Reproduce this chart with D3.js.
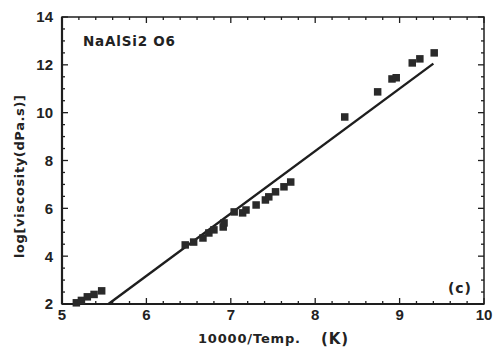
<!DOCTYPE html>
<html><head><meta charset="utf-8">
<script src="https://cdn.jsdelivr.net/npm/d3@7"></script>
<style>body{margin:0;background:#fff}svg{display:block}text{font-family:"Liberation Sans",Arial,sans-serif;font-weight:bold;fill:#222}.lab{font-family:"DejaVu Sans",sans-serif;font-weight:bold}</style>
</head><body><svg id="c" width="495" height="353"></svg>
<script>
const xTicks=[5,6,7,8,9,10];
const yTicks=[2,4,6,8,10,12,14];
const dataX=[5.17,5.23,5.30,5.38,5.47,6.46,6.56,6.67,6.74,6.80,6.91,6.92,7.04,7.14,7.18,7.30,7.41,7.45,7.53,7.63,7.71,8.35,8.74,8.91,8.96,9.15,9.24,9.41];
const dataY=[2.05,2.15,2.30,2.40,2.55,4.47,4.59,4.76,4.97,5.10,5.22,5.39,5.85,5.81,5.93,6.14,6.35,6.48,6.69,6.90,7.10,9.82,10.87,11.41,11.46,12.08,12.25,12.50];
const fitX=[5.55,9.40];
const fitY=[2.0,12.05];
const title="NaAlSi2 O6";
const panel="(c)";
const xLabel="10000/Temp.";
const xUnit="(K)";
const yLabel="log[viscosity(dPa.s)]";

const svg=d3.select("#c");
const L=62,R=484,T=17,B=304;
const x=d3.scaleLinear().domain([5,10]).range([L,R]);
const y=d3.scaleLinear().domain([2,14]).range([B,T]);
const col="#1e1e1e";

// frame
svg.append("rect").attr("x",L).attr("y",T).attr("width",R-L).attr("height",B-T)
  .attr("fill","none").attr("stroke",col).attr("stroke-width",1.5);
svg.append("line").attr("x1",L).attr("x2",L).attr("y1",T).attr("y2",B).attr("stroke",col).attr("stroke-width",2.2);
svg.append("line").attr("x1",L).attr("x2",R).attr("y1",B).attr("y2",B).attr("stroke",col).attr("stroke-width",2.2);

const xMinor=d3.range(5,10.001,0.2);
const yMinor=d3.range(2,14.001,0.5);
const tk=svg.append("g").attr("stroke",col).attr("stroke-width",1.3);
xMinor.forEach(v=>{
  const major=Math.abs(v-Math.round(v))<1e-6;
  const len=major?6:3;
  tk.append("line").attr("x1",x(v)).attr("x2",x(v)).attr("y1",B).attr("y2",B-len);
  tk.append("line").attr("x1",x(v)).attr("x2",x(v)).attr("y1",T).attr("y2",T+len);
});
yMinor.forEach(v=>{
  const major=Math.abs(v/2-Math.round(v/2))<1e-6;
  const len=major?6:3;
  tk.append("line").attr("y1",y(v)).attr("y2",y(v)).attr("x1",L).attr("x2",L+len);
  tk.append("line").attr("y1",y(v)).attr("y2",y(v)).attr("x1",R).attr("x2",R-len);
});

// tick labels
svg.append("g").selectAll("text").data(xTicks).join("text")
  .attr("x",d=>x(d)).attr("y",320).attr("text-anchor","middle")
  .attr("font-size",15).text(d=>d);
svg.append("g").selectAll("text").data(yTicks).join("text")
  .attr("x",53).attr("y",d=>y(d)).attr("dy","0.36em").attr("text-anchor","end")
  .attr("font-size",15).text(d=>d);

// fit line
svg.append("line").attr("x1",x(fitX[0])).attr("y1",y(fitY[0])).attr("x2",x(fitX[1])).attr("y2",y(fitY[1]))
  .attr("stroke",col).attr("stroke-width",2.4);

// points
const s=7.5;
svg.append("g").selectAll("rect").data(dataX).join("rect")
  .attr("x",(d,i)=>x(d)-s/2).attr("y",(d,i)=>y(dataY[i])-s/2)
  .attr("width",s).attr("height",s).attr("fill","#2a2a2a");

// texts
svg.append("text").attr("class","lab").attr("x",83).attr("y",46).attr("font-size",13.5)
  .attr("textLength",92).attr("lengthAdjust","spacing").text(title);
svg.append("text").attr("class","lab").attr("x",448).attr("y",293).attr("font-size",14)
  .attr("textLength",23).attr("lengthAdjust","spacing").text(panel);
svg.append("text").attr("class","lab").attr("x",198).attr("y",343).attr("font-size",13)
  .attr("textLength",102).attr("lengthAdjust","spacing").text(xLabel);
svg.append("text").attr("class","lab").attr("x",321).attr("y",344).attr("font-size",15)
  .attr("textLength",27).attr("lengthAdjust","spacing").text(xUnit);
svg.append("text").attr("class","lab").attr("transform","translate(24,258) rotate(-90)")
  .attr("font-size",13).attr("textLength",163).attr("lengthAdjust","spacing").text(yLabel);
</script></body></html>
